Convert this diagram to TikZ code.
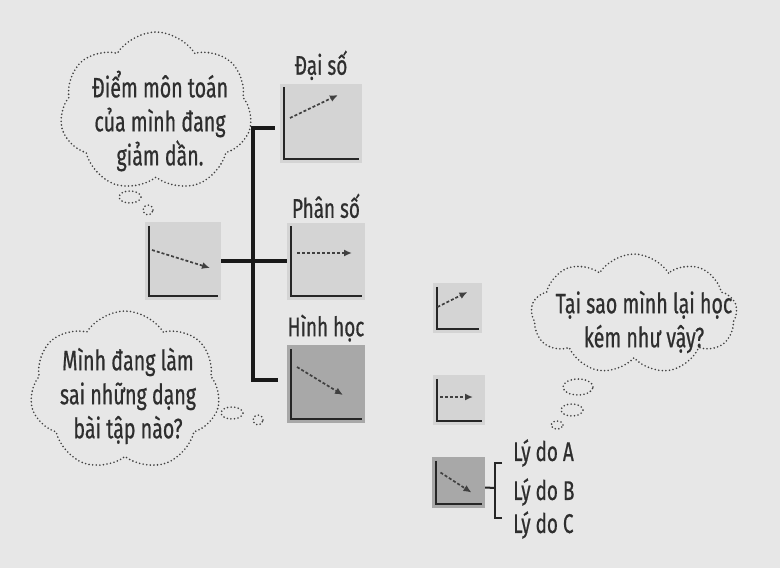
\documentclass[tikz,border=0pt]{standalone}
\usepackage{fontspec}
\setmainfont{Fira Sans}[FakeStretch=0.7,FakeBold=0.6]
\usepackage{tikz}
\usetikzlibrary{arrows.meta}
\usetikzlibrary{calc}
\usetikzlibrary{positioning}
\usetikzlibrary{shapes.symbols}
\usetikzlibrary{shapes.geometric}

\definecolor{paper}{HTML}{E7E7E7}
\definecolor{lightbox}{HTML}{D4D4D4}
\definecolor{darkbox}{HTML}{A8A8A8}
\definecolor{ink}{HTML}{2E2E2E}

\tikzset{
  plot/.style={rectangle, inner sep=0pt},
  axis/.style={line width=2.3pt, draw=black!85},
  trend/.style={dash pattern=on 3pt off 2pt, line width=1.7pt, draw=black!75, -{Latex[length=8pt,width=7pt]}},
  branch/.style={line width=3.6pt, draw=black!90},
  dotty/.style={line width=1.8pt, dash pattern=on 0pt off 3.6pt, line cap=round, draw=black!75},
  think/.style={cloud, cloud puffs=7, cloud puff arc=115, cloud ignores aspect, dotty, inner sep=0pt},
  thought/.style={align=center, text=ink, inner sep=0pt, font=\fontsize{28}{34}\selectfont},
  bubble/.style={ellipse, dotty, inner sep=0pt},
  title/.style={text=ink, font=\fontsize{27}{29}\selectfont, inner sep=1pt},
}

% box with axes and a dashed trend arrow
\newcommand{\plotbox}[9]{%
  \node[plot, minimum width=#4, minimum height=#5, fill=#6] (#1) at (#2,#3) {};
  \draw[axis] ($(#1.north west)+(4,4)$) |- ($(#1.south east)+(-3,-4)$);
  \draw[trend] ($(#1.center)+#7$) -- ($(#1.center)+#8$);
}

\begin{document}
\begin{tikzpicture}[x=1pt,y=-1pt]
\fill[paper] (0,0) rectangle (780,568);
\useasboundingbox (0,0) rectangle (780,568);

% charts of the tree
\plotbox{main}{183}{261}{76pt}{78pt}{lightbox}{(-31,-11)}{(27,7)}{}
\plotbox{alg}{321}{123}{82pt}{79pt}{lightbox}{(-31,-5)}{(17,-28)}{}
\plotbox{frac}{326}{261}{78pt}{77pt}{lightbox}{(-29,-8)}{(26,-8)}{}
\plotbox{geo}{326}{384}{78pt}{78pt}{darkbox}{(-29,-17)}{(17,11)}{}

\node[title, above=2pt of alg] (algT) {Đại số};
\node[title, above=3pt of frac] (fracT) {Phân số};
\node[title, above=2pt of geo] (geoT) {Hình học};

\coordinate (hub) at (253,261);
\draw[branch] (main.east) -- (frac.west);
\draw[branch] ($(alg.west)+(-5,5)$) -| (hub) |- ($(geo.west)+(-9,-4)$);

% small charts on the right
\plotbox{up}{457.5}{308}{49pt}{50pt}{lightbox}{(-20,-1)}{(10,-16)}{}
\plotbox{flat}{459}{400}{52pt}{50pt}{lightbox}{(-19,-3)}{(14,-3)}{}
\plotbox{down}{458.5}{482.5}{53pt}{51pt}{darkbox}{(-18,-10)}{(13,10)}{}

\coordinate (fork) at (495,488);
\draw[line width=2pt, draw=black!85] ($(down.east)+(0,5)$) -- (fork);
\draw[line width=2pt, draw=black!85] ($(fork)+(7,-25)$) -- ($(fork)+(0,-25)$) -- ($(fork)+(0,30)$) -- ($(fork)+(7,30)$);

\node[title, anchor=west] (whyA) at (512,453) {Lý do A};
\node[title, anchor=west] (whyB) at (512,492) {Lý do B};
\node[title, anchor=west] (whyC) at (512,525) {Lý do C};

% thoughts
\node[think, minimum width=192pt, minimum height=160pt] (cl1) at (156,112) {};
\node[thought] (cl1T) at (160,121) {Điểm môn toán\\của mình đang\\giảm dần.};
\node[bubble, minimum width=22pt, minimum height=12pt] (cl1a) at (130,197) {};
\node[bubble, minimum width=10pt, minimum height=10pt] (cl1b) at (148,210) {};

\node[think, minimum width=190pt, minimum height=160pt] (cl2) at (125,391) {};
\node[thought] (cl2T) at (128,396) {Mình đang làm\\sai những dạng\\bài tập nào?};
\node[bubble, minimum width=22pt, minimum height=12pt] (cl2a) at (232,413) {};
\node[bubble, minimum width=10pt, minimum height=10pt] (cl2b) at (258,420) {};

\node[think, cloud puffs=9, minimum width=206pt, minimum height=120pt] (cl3) at (634,314) {};
\node[thought] (cl3T) at (644,322) {Tại sao mình lại học\\kém như vậy?};
\node[bubble, minimum width=30pt, minimum height=16pt] (cl3a) at (578,387) {};
\node[bubble, minimum width=22pt, minimum height=12pt] (cl3b) at (572,410) {};
\node[bubble, minimum width=12pt, minimum height=8pt] (cl3c) at (557,425) {};

\end{tikzpicture}
\end{document}
